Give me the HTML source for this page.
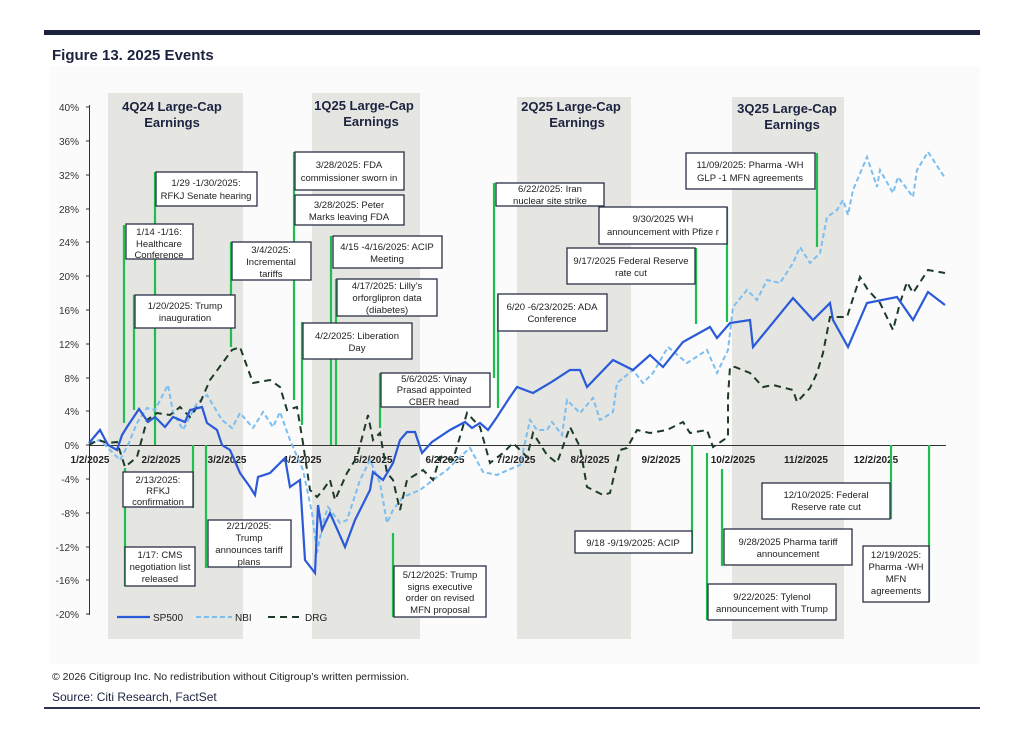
<!DOCTYPE html>
<html><head><meta charset="utf-8"><style>
body{margin:0;background:#fff;}
svg{display:block;font-family:"Liberation Sans",sans-serif;}
</style></head><body>
<svg width="1024" height="749" viewBox="0 0 1024 749" xmlns="http://www.w3.org/2000/svg">
<rect x="44" y="30" width="936" height="5" fill="#1c2340"/>
<text x="52" y="60" font-size="15" font-weight="bold" fill="#1c2340">Figure 13. 2025 Events</text>
<rect x="50" y="66" width="930" height="598" fill="#fbfbfb"/>
<!-- bands -->
<g fill="#e5e5e1">
<rect x="108" y="93" width="135" height="546"/>
<rect x="312" y="93" width="108" height="546"/>
<rect x="517" y="97" width="114" height="542"/>
<rect x="732" y="97" width="112" height="542"/>
</g>
<g font-size="13" font-weight="bold" fill="#1c2340" text-anchor="middle">
<text x="172" y="111">4Q24 Large-Cap</text><text x="172" y="127">Earnings</text>
<text x="364" y="110">1Q25 Large-Cap</text><text x="371" y="126">Earnings</text>
<text x="571" y="111">2Q25 Large-Cap</text><text x="577" y="127">Earnings</text>
<text x="787" y="113">3Q25 Large-Cap</text><text x="792" y="129">Earnings</text>
</g>
<!-- axes -->
<line x1="89.5" y1="105" x2="89.5" y2="615" stroke="#333" stroke-width="1"/>
<line x1="89" y1="445.5" x2="946" y2="445.5" stroke="#333" stroke-width="1"/>
<g stroke="#333"><line x1="86" y1="107" x2="89" y2="107"/><line x1="86" y1="141" x2="89" y2="141"/><line x1="86" y1="175" x2="89" y2="175"/><line x1="86" y1="209" x2="89" y2="209"/><line x1="86" y1="242" x2="89" y2="242"/><line x1="86" y1="276" x2="89" y2="276"/><line x1="86" y1="310" x2="89" y2="310"/><line x1="86" y1="344" x2="89" y2="344"/><line x1="86" y1="378" x2="89" y2="378"/><line x1="86" y1="411" x2="89" y2="411"/><line x1="86" y1="445" x2="89" y2="445"/><line x1="86" y1="479" x2="89" y2="479"/><line x1="86" y1="513" x2="89" y2="513"/><line x1="86" y1="547" x2="89" y2="547"/><line x1="86" y1="580" x2="89" y2="580"/><line x1="86" y1="614" x2="89" y2="614"/></g>
<g font-size="10" fill="#333" text-anchor="end">
<text x="79" y="111">40%</text><text x="79" y="145">36%</text><text x="79" y="179">32%</text><text x="79" y="213">28%</text><text x="79" y="246">24%</text><text x="79" y="280">20%</text><text x="79" y="314">16%</text><text x="79" y="348">12%</text><text x="79" y="382">8%</text><text x="79" y="415">4%</text><text x="79" y="449">0%</text><text x="79" y="483">-4%</text><text x="79" y="517">-8%</text><text x="79" y="551">-12%</text><text x="79" y="584">-16%</text><text x="79" y="618">-20%</text>
</g>
<g font-size="10" font-weight="bold" fill="#222" text-anchor="middle">
<text x="90" y="463">1/2/2025</text><text x="161" y="463">2/2/2025</text><text x="227" y="463">3/2/2025</text><text x="302" y="463">4/2/2025</text><text x="373" y="463">5/2/2025</text><text x="445" y="463">6/2/2025</text><text x="516" y="463">7/2/2025</text><text x="590" y="463">8/2/2025</text><text x="661" y="463">9/2/2025</text><text x="733" y="463">10/2/2025</text><text x="806" y="463">11/2/2025</text><text x="876" y="463">12/2/2025</text>
</g>
<!-- green event lines -->
<g stroke="#1fbf4f" stroke-width="2.2">
<line x1="124" y1="225" x2="124" y2="423"/>
<line x1="155" y1="172" x2="155" y2="445"/>
<line x1="134" y1="295" x2="134" y2="410"/>
<line x1="231" y1="242" x2="231" y2="347"/>
<line x1="294" y1="152" x2="294" y2="400"/>
<line x1="331" y1="236" x2="331" y2="445"/>
<line x1="336" y1="279" x2="336" y2="445"/>
<line x1="302" y1="322" x2="302" y2="425"/>
<line x1="380" y1="373" x2="380" y2="428"/>
<line x1="494" y1="183" x2="494" y2="378"/>
<line x1="498" y1="294" x2="498" y2="408"/>
<line x1="727" y1="207" x2="727" y2="322"/>
<line x1="696" y1="248" x2="696" y2="324"/>
<line x1="817" y1="153" x2="817" y2="247"/>
<line x1="193" y1="445" x2="193" y2="508"/>
<line x1="125" y1="468" x2="125" y2="586"/>
<line x1="206" y1="445" x2="206" y2="568"/>
<line x1="393" y1="533" x2="393" y2="617"/>
<line x1="692" y1="445" x2="692" y2="553"/>
<line x1="722" y1="469" x2="722" y2="566"/>
<line x1="707" y1="453" x2="707" y2="620"/>
<line x1="891" y1="445" x2="891" y2="519"/>
<line x1="929" y1="445" x2="929" y2="602"/>
</g>
<!-- series -->
<polyline fill="none" stroke="#7bbef0" stroke-width="2" stroke-dasharray="5,3" points="89,443 100,440 110,450 120,460 128,445 137,423 147,408 155,410 168,385 173,412 183,430 197,403 207,395 222,420 232,428 240,413 253,428 263,412 273,427 280,412 290,440 303,470 312,513 317,553 323,523 328,507 340,523 347,520 360,480 370,460 380,483 387,523 393,510 403,497 420,490 433,480 447,470 460,457 470,448 483,472 497,475 508,470 520,465 530,420 537,430 547,430 552,422 562,435 567,400 580,413 593,398 600,420 613,412 617,383 633,370 643,383 653,373 668,347 687,363 707,350 717,373 728,350 733,307 747,290 757,300 767,280 780,283 793,263 800,247 810,263 820,253 827,217 837,210 843,200 848,215 853,190 867,157 877,187 880,170 893,193 898,177 913,197 917,170 928,152 945,178"/>
<polyline fill="none" stroke="#1d3a28" stroke-width="2" stroke-dasharray="7,5" points="89,445 98,440 108,443 117,442 125,467 137,457 147,420 157,413 170,415 180,407 190,417 200,403 210,380 232,350 240,347 253,383 270,380 280,387 287,410 297,407 303,443 310,490 317,497 323,490 330,480 335,500 347,473 357,457 368,415 373,440 380,433 387,473 393,480 400,510 407,480 423,470 433,480 440,457 453,460 467,413 480,427 490,463 503,453 513,443 527,457 533,433 547,455 557,463 570,427 580,447 587,487 603,495 610,493 620,450 627,448 637,430 650,433 667,430 683,422 690,433 707,430 713,447 728,437 728,397 730,367 735,367 750,373 763,387 773,385 793,390 797,402 810,388 817,373 823,353 830,317 847,317 860,277 868,290 880,303 893,330 900,303 907,282 913,293 928,270 945,273"/>
<polyline fill="none" stroke="#2a5ad8" stroke-width="2.2" points="89,443 100,430 108,445 117,450 122,435 127,427 139,409 148,422 155,417 165,427 173,417 185,422 190,410 202,407 207,423 217,430 222,445 230,450 240,473 250,487 255,495 258,477 270,473 285,458 290,487 300,480 305,560 315,573 318,505 322,530 330,513 345,547 355,520 370,490 373,472 383,480 393,463 400,440 407,432 415,432 422,453 432,442 450,430 465,422 472,428 480,423 488,430 497,417 510,397 517,387 533,393 550,383 570,370 580,370 587,387 613,360 633,370 650,355 663,367 683,342 710,327 717,338 730,323 750,320 753,347 793,298 813,320 830,303 833,320 848,347 867,303 897,297 913,320 928,292 945,305"/>
<!-- boxes -->
<g fill="#fff" stroke="#2b2f45" stroke-width="1.3">
<rect x="126" y="224" width="67" height="35"/>
<rect x="156" y="172" width="101" height="34"/>
<rect x="135" y="295" width="100" height="33"/>
<rect x="232" y="242" width="79" height="38"/>
<rect x="295" y="152" width="109" height="38"/>
<rect x="295" y="195" width="109" height="30"/>
<rect x="333" y="236" width="109" height="32"/>
<rect x="337" y="279" width="100" height="37"/>
<rect x="303" y="323" width="109" height="36"/>
<rect x="381" y="373" width="109" height="34"/>
<rect x="496" y="183" width="108" height="23"/>
<rect x="498" y="294" width="109" height="37"/>
<rect x="599" y="207" width="128" height="37"/>
<rect x="567" y="248" width="128" height="36"/>
<rect x="686" y="153" width="129" height="36"/>
<rect x="123" y="472" width="70" height="35"/>
<rect x="125" y="547" width="70" height="39"/>
<rect x="208" y="520" width="83" height="47"/>
<rect x="394" y="566" width="92" height="51"/>
<rect x="575" y="531" width="117" height="22"/>
<rect x="724" y="529" width="128" height="36"/>
<rect x="708" y="584" width="128" height="36"/>
<rect x="762" y="483" width="128" height="36"/>
<rect x="863" y="546" width="66" height="56"/>
</g>
<g font-size="9.5" fill="#222" text-anchor="middle">
<text x="159" y="235">1/14 -1/16:</text><text x="159" y="247">Healthcare</text><text x="159" y="258">Conference</text>
<text x="206" y="186">1/29 -1/30/2025:</text><text x="206" y="199">RFKJ Senate hearing</text>
<text x="185" y="309">1/20/2025: Trump</text><text x="185" y="321">inauguration</text>
<text x="271" y="253">3/4/2025:</text><text x="271" y="265">Incremental</text><text x="271" y="277">tariffs</text>
<text x="349" y="168">3/28/2025: FDA</text><text x="349" y="181">commissioner sworn in</text>
<text x="349" y="208">3/28/2025: Peter</text><text x="349" y="220">Marks leaving FDA</text>
<text x="387" y="250">4/15 -4/16/2025: ACIP</text><text x="387" y="262">Meeting</text>
<text x="387" y="289">4/17/2025: Lilly’s</text><text x="387" y="301">orforglipron data</text><text x="387" y="313">(diabetes)</text>
<text x="357" y="339">4/2/2025: Liberation</text><text x="357" y="351">Day</text>
<text x="434" y="382">5/6/2025: Vinay</text><text x="434" y="393">Prasad appointed</text><text x="434" y="405">CBER head</text>
<text x="550" y="192">6/22/2025: Iran</text><text x="550" y="204">nuclear site strike</text>
<text x="552" y="310">6/20 -6/23/2025: ADA</text><text x="552" y="322">Conference</text>
<text x="663" y="222">9/30/2025 WH</text><text x="663" y="235">announcement with Pfize r</text>
<text x="631" y="264">9/17/2025 Federal Reserve</text><text x="631" y="276">rate cut</text>
<text x="750" y="168">11/09/2025: Pharma  -WH</text><text x="750" y="181">GLP -1 MFN agreements</text>
<text x="158" y="483">2/13/2025:</text><text x="158" y="494">RFKJ</text><text x="158" y="505">confirmation</text>
<text x="160" y="558">1/17: CMS</text><text x="160" y="570">negotiation list</text><text x="160" y="582">released</text>
<text x="249" y="529">2/21/2025:</text><text x="249" y="541">Trump</text><text x="249" y="553">announces tariff</text><text x="249" y="565">plans</text>
<text x="440" y="578">5/12/2025: Trump</text><text x="440" y="590">signs executive</text><text x="440" y="601">order on revised</text><text x="440" y="613">MFN proposal</text>
<text x="633" y="546">9/18 -9/19/2025: ACIP</text>
<text x="788" y="545">9/28/2025 Pharma tariff</text><text x="788" y="557">announcement</text>
<text x="772" y="600">9/22/2025: Tylenol</text><text x="772" y="612">announcement with Trump</text>
<text x="826" y="498">12/10/2025: Federal</text><text x="826" y="510">Reserve rate cut</text>
<text x="896" y="558">12/19/2025:</text><text x="896" y="570">Pharma -WH</text><text x="896" y="582">MFN</text><text x="896" y="594">agreements</text>
</g>
<!-- legend -->
<line x1="117" y1="617" x2="150" y2="617" stroke="#2a5ad8" stroke-width="2.2"/>
<text x="153" y="621" font-size="10" fill="#222">SP500</text>
<line x1="196" y1="617" x2="232" y2="617" stroke="#7bbef0" stroke-width="2" stroke-dasharray="5,3"/>
<text x="235" y="621" font-size="10" fill="#222">NBI</text>
<line x1="268" y1="617" x2="303" y2="617" stroke="#1d3a28" stroke-width="2" stroke-dasharray="7,5"/>
<text x="305" y="621" font-size="10" fill="#222">DRG</text>
<!-- footer -->
<text x="52" y="680" font-size="10.5" fill="#222">© 2026 Citigroup Inc. No redistribution without Citigroup’s written permission.</text>
<text x="52" y="701" font-size="12" fill="#1c2340">Source: Citi Research, FactSet</text>
<rect x="44" y="707" width="936" height="2" fill="#2b3350"/>
</svg>
</body></html>
